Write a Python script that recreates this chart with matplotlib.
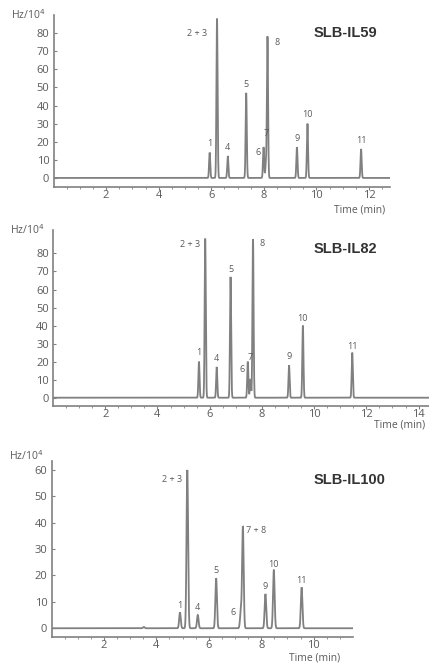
import numpy as np
import matplotlib.pyplot as plt

# chromatogram peaks: retention time (min), height (Hz/10^4)
labels_59 = ["1", "2 + 3", "4", "5", "6", "7", "8", "9", "10", "11"]
rt_59 = [5.94, 6.22, 6.63, 7.33, 7.99, 8.08, 8.14, 9.26, 9.66, 11.70]
h_59 = [14, 88, 12, 47, 17, 8, 78, 17, 30, 16]

labels_82 = ["1", "2 + 3", "4", "5", "6", "7", "8", "9", "10", "11"]
rt_82 = [5.59, 5.83, 6.27, 6.80, 7.46, 7.56, 7.66, 9.04, 9.57, 11.46]
h_82 = [20, 88, 17, 67, 20, 10, 88, 18, 40, 25]

labels_100 = ["", "1", "2 + 3", "4", "5", "6", "7 + 8", "9", "10", "11"]
rt_100 = [3.52, 4.90, 5.18, 5.58, 6.28, 7.22, 7.30, 8.16, 8.48, 9.54]
h_100 = [0.5, 6, 60, 5, 19, 6, 38.5, 13, 22, 15.5]

yticks_59 = list(range(0, 90, 10))
yticks_82 = list(range(0, 90, 10))
yticks_100 = list(range(0, 70, 10))

GREY = "#808080"
TXT = "#5a5a5a"
FONT = "Open Sans"
DPI = 100

# label offsets in points (dx, dy, ha, va) relative to each peak top
off_59 = [(0, 3, "center", "bottom"), (-7, -11, "right", "center"), (0, 3, "center", "bottom"),
          (0, 3, "center", "bottom"), (-2, -4, "right", "center"), (0, 18, "center", "bottom"),
          (5, -4, "left", "center"), (0, 3, "center", "bottom"), (0, 3, "center", "bottom"),
          (0, 3, "center", "bottom")]
off_82 = [(0, 3, "center", "bottom"), (-4, -4, "right", "center"), (0, 3, "center", "bottom"),
          (0, 2, "center", "bottom"), (-2, -6, "right", "center"), (0, 13, "center", "bottom"),
          (5, -3, "left", "center"), (0, 3, "center", "bottom"), (0, 2, "center", "bottom"),
          (0, 1, "center", "bottom")]
off_100 = [(0, 0, "center", "bottom"), (0, 2, "center", "bottom"), (-4, -7, "right", "center"),
           (0, 2, "center", "bottom"), (0, 2, "center", "bottom"), (-4, 0, "right", "center"),
           (2.5, -3, "left", "center"), (0, 2, "center", "bottom"), (0, 1, "center", "bottom"),
           (0, 2, "center", "bottom")]


def draw_panel(ax, rt, h, labels, offs, xmax, ylim, yticks, sigma, tl_off, hz_dy):
    t = np.linspace(0, xmax, 8000)
    y = np.zeros_like(t)
    for r, hh in zip(rt, h):
        y += hh * np.exp(-0.5 * ((t - r) / sigma) ** 2)
    ax.plot(t, y, color=GREY, lw=1.3, solid_joinstyle="miter")
    ax.set_xlim(0, xmax)
    ax.set_ylim(*ylim)
    for lab, r, hh, (dx, dy, ha, va) in zip(labels, rt, h, offs):
        if lab:
            ax.annotate(lab, (r, hh), xytext=(dx, dy), textcoords="offset points",
                        ha=ha, va=va, fontsize=6.5, color=TXT, family=FONT)
    ax.set_yticks(yticks)
    ax.set_xticks(np.arange(2, xmax, 2))
    ax.set_xticks(np.arange(0.5, xmax, 0.5), minor=True)
    for s in ["top", "right"]:
        ax.spines[s].set_visible(False)
    for s in ["left", "bottom"]:
        ax.spines[s].set_color(GREY)
        ax.spines[s].set_linewidth(1.2)
    ax.tick_params(axis="x", which="major", direction="out", length=2, color=GREY,
                   labelsize=8, labelcolor=TXT, pad=0.5)
    ax.tick_params(axis="x", which="minor", direction="out", length=1.2, color=GREY)
    ax.tick_params(axis="y", direction="in", length=2, color=GREY, labelsize=8,
                   labelcolor=TXT, pad=3)
    for lb in ax.get_xticklabels() + ax.get_yticklabels():
        lb.set_family(FONT)
    ax.annotate("Hz/10$^4$", (0, 1), xycoords="axes fraction", xytext=(-6, hz_dy),
                textcoords="offset points", ha="right", va="center", fontsize=7.5,
                color=TXT, family=FONT)
    ax.annotate("Time (min)", (1, 0), xycoords="axes fraction", xytext=tl_off,
                textcoords="offset points", ha="right", va="center", fontsize=7.5,
                color=TXT, family=FONT)


fig = plt.figure(figsize=(429 / DPI, 666 / DPI), dpi=DPI)

ax1 = fig.add_axes([53.5 / 429, 1 - 187 / 666, 336.5 / 429, 172 / 666])
draw_panel(ax1, rt_59, h_59, labels_59, off_59, 12.8, (-5, 90), yticks_59, 0.022,
           (-3.5, -16.5), 0)

ax2 = fig.add_axes([53 / 429, 1 - 406 / 666, 376 / 429, 176 / 666])
draw_panel(ax2, rt_82, h_82, labels_82, off_82, 14.4, (-4.6, 93), yticks_82, 0.022,
           (-3, -14), 0)

ax3 = fig.add_axes([51.5 / 429, 1 - 636.7 / 666, 301.5 / 429, 176 / 666])
draw_panel(ax3, rt_100, h_100, labels_100, off_100, 11.5, (-3.2, 63.5), yticks_100, 0.03,
           (-9.4, -15.5), 3)

fig.text(345.5 / 429, 1 - 33 / 666, "SLB-IL59", ha="center", va="center", fontsize=10.5,
         fontweight="bold", color="#333333", family="Liberation Sans")
fig.text(345.5 / 429, 1 - 249.3 / 666, "SLB-IL82", ha="center", va="center", fontsize=10.5,
         fontweight="bold", color="#333333", family="Liberation Sans")
fig.text(350 / 429, 1 - 480 / 666, "SLB-IL100", ha="center", va="center", fontsize=10.5,
         fontweight="bold", color="#333333", family="Liberation Sans")

fig.savefig("out.png", dpi=DPI)
